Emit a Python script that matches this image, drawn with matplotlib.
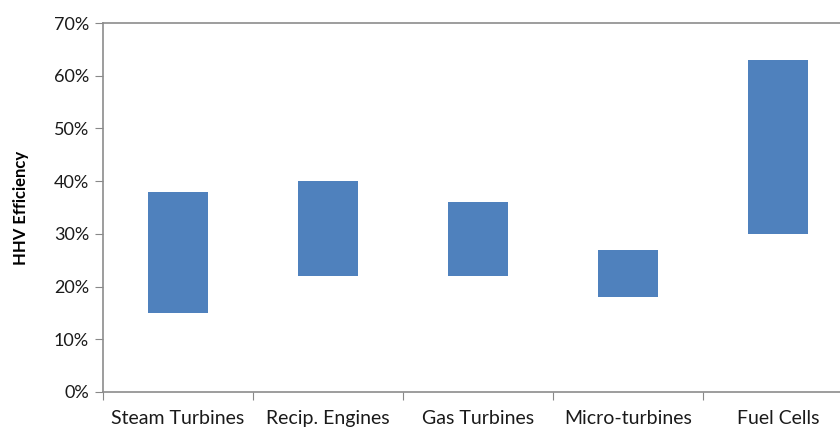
import matplotlib
matplotlib.use("Agg")
import matplotlib.pyplot as plt
from matplotlib.ticker import FuncFormatter, MultipleLocator

categories = ["Steam Turbines", "Recip. Engines", "Gas Turbines", "Micro-turbines", "Fuel Cells"]
low = [15, 22, 22, 18, 30]
high = [38, 40, 36, 27, 63]

plt.rcParams['font.family'] = ['Lato', 'DejaVu Sans']

W, H = 840, 429
fig = plt.figure(figsize=(W / 100, H / 100), dpi=100)
ax = fig.add_axes([103 / W, (H - 392) / H, 750 / W, 369 / H])

x = list(range(len(categories)))
heights = [h - l for h, l in zip(high, low)]
ax.bar(x, heights, bottom=low, width=0.4, color="#4F81BD", zorder=3)

ax.set_xlim(-0.5, len(categories) - 0.5)
ax.set_ylim(0, 70)
ax.yaxis.set_major_locator(MultipleLocator(10))
ax.yaxis.set_major_formatter(FuncFormatter(lambda v, p: f"{int(round(v))}%"))
ax.set_xticks([i + 0.5 for i in range(-1, len(categories))], minor=False)
ax.set_xticklabels([])
ax.set_xticks(x, minor=True)
ax.set_xticklabels(categories, minor=True, fontsize=14, color="#1a1a1a")
ax.tick_params(axis="x", which="minor", length=0, pad=13)
ax.tick_params(axis="x", which="major", length=6, color="#888888", direction="out")
ax.tick_params(axis="y", length=6, color="#888888", labelsize=13, labelcolor="#1a1a1a", pad=4)

for s in ["left", "bottom", "top"]:
    ax.spines[s].set_color("#8c8c8c")
    ax.spines[s].set_linewidth(1.2)
ax.spines["right"].set_visible(False)

ax.set_ylabel("HHV Efficiency", fontsize=12, fontweight="bold", labelpad=18)

fig.savefig("out.png", dpi=100)
